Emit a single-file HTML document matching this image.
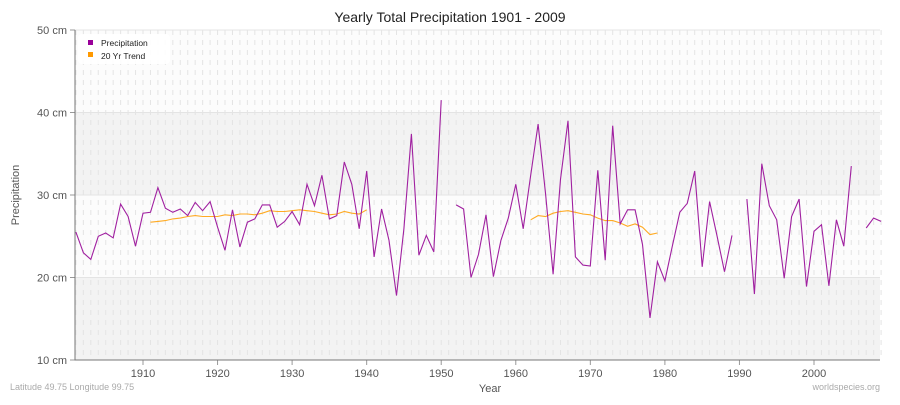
<!DOCTYPE html>
<html><head><meta charset="utf-8"><style>
body{margin:0;background:#fff;font-family:"Liberation Sans",sans-serif;}
svg text{font-family:"Liberation Sans",sans-serif;}
</style></head><body>
<svg id="chart" width="900" height="400" xmlns="http://www.w3.org/2000/svg">
<text x="450" y="22" text-anchor="middle" font-size="14" fill="#222">Yearly Total Precipitation 1901 - 2009</text>
<g id="bg"></g><g id="grid"></g><g id="axes"></g><g id="series"></g>
<text x="10" y="390" font-size="9" fill="#aaa">Latitude 49.75 Longitude 99.75</text>
<text x="880" y="390" font-size="9" fill="#aaa" text-anchor="end">worldspecies.org</text>
<text x="490" y="392" font-size="11" fill="#555" text-anchor="middle">Year</text>
<text x="19" y="195" font-size="11" fill="#555" text-anchor="middle" transform="rotate(-90 19 195)">Precipitation</text>
<g>
<rect x="78" y="34" width="92" height="30" rx="4" fill="#fff" opacity="0.9"/>
<rect x="88" y="40" width="5" height="5" fill="#990099"/>
<text x="101" y="46" font-size="8.5" fill="#222">Precipitation</text>
<rect x="88" y="52" width="5" height="5" fill="#ff9900"/>
<text x="101" y="59" font-size="8.5" fill="#222">20 Yr Trend</text>
</g>
</svg>
<script>
const startYear = 1901;
const precip = [25.5,23,22.2,25,25.4,24.8,28.9,27.4,23.8,27.8,27.9,30.9,28.4,27.9,28.3,27.5,29.1,28.1,29.2,26.1,23.3,28.2,23.7,26.7,27.1,28.8,28.8,26.1,26.8,28.0,26.4,31.3,28.7,32.4,27.1,27.5,34.0,31.3,25.9,32.9,22.5,28.3,24.5,17.8,25.9,37.4,22.7,25.1,23.1,41.5,null,28.8,28.3,20.0,22.8,27.6,20.1,24.5,27.2,31.3,25.9,32.4,38.6,30.1,20.4,31.9,39.0,22.5,21.5,21.4,33.0,22.1,38.4,26.5,28.2,28.2,24.0,15.1,21.9,19.6,23.8,27.9,29.0,32.9,21.3,29.2,25.0,20.7,25.1,null,29.5,18.0,33.8,28.7,27.0,19.9,27.4,29.5,18.9,25.6,26.4,19.0,27.0,23.8,33.5,null,26.0,27.2,26.8];
const trendA_start = 1911;
const trendA = [26.7,26.8,26.9,27.1,27.2,27.4,27.5,27.4,27.4,27.4,27.6,27.5,27.7,27.7,27.6,27.8,28.1,28.0,28.0,28.1,28.2,28.1,28.0,27.8,27.6,27.7,28.0,27.8,27.7,28.2];
const trendB_start = 1962;
const trendB = [27.0,27.5,27.4,27.8,28.0,28.1,27.9,27.7,27.6,27.2,26.9,26.9,26.6,26.2,26.5,26.1,25.2,25.4];
const yTicks = [10,20,30,40,50];
const xTicks = [1910,1920,1930,1940,1950,1960,1970,1980,1990,2000];

const NS="http://www.w3.org/2000/svg";
const X0=75,X1=880,Y0=30,Y1=360;
const xs=y=>143+(y-1910)*(814-143)/90;
const ys=v=>Y1-(v-10)*(Y1-Y0)/40;
function mk(parent,tag,attrs){const e=document.createElementNS(NS,tag);for(const k in attrs)e.setAttribute(k,attrs[k]);document.getElementById(parent).appendChild(e);return e;}
for(let i=0;i<4;i++){const lo=yTicks[i],hi=yTicks[i+1];
 const r=mk('bg','rect',{x:X0,y:ys(hi),width:X1-X0,height:ys(lo)-ys(hi),fill:i%2==0?'#f3f3f3':'#fcfcfc'});
 
 }
for(let y=1901;y<=2009;y++){const l=mk('grid','line',{x1:xs(y),x2:xs(y),y1:Y0,y2:Y1,stroke:'#e4e4e4','stroke-width':1,'stroke-dasharray':'5,5'});
 
 }
yTicks.forEach(v=>{const l=mk('grid','line',{x1:X0,x2:X1,y1:ys(v),y2:ys(v),stroke:'#e4e4e4','stroke-width':1});
 
 
 const t=mk('axes','line',{x1:X0-5,x2:X0,y1:ys(v),y2:ys(v),stroke:'#999'});
 
 
 const tx=mk('axes','text',{x:X0-8,y:ys(v)+4,'text-anchor':'end','font-size':11,fill:'#555'});tx.textContent=v+' cm';
 
 });
xTicks.forEach(y=>{const t=mk('axes','line',{x1:xs(y),x2:xs(y),y1:Y1,y2:Y1+5,stroke:'#999'});
 
 
 const tx=mk('axes','text',{x:xs(y),y:Y1+17,'text-anchor':'middle','font-size':11,fill:'#555'});tx.textContent=y;
 
 });
const ax=mk('axes','path',{d:`M${X0} ${Y0}V${Y1}H${X1}`,fill:'none',stroke:'#777','stroke-width':1});


function segs(arr,start){const out=[];let cur=[];arr.forEach((v,i)=>{if(v==null){if(cur.length)out.push(cur);cur=[];}else cur.push([xs(start+i),ys(v)]);});if(cur.length)out.push(cur);return out;}
function draw(arr,start,color,name){segs(arr,start).forEach(s=>{const p=mk('series','path',{d:'M'+s.map(q=>q[0].toFixed(1)+' '+q[1].toFixed(1)).join('L'),fill:'none',stroke:color,'stroke-width':1.1});
 
 });}
draw(trendA,trendA_start,'#ffaa22','trend-line');
draw(trendB,trendB_start,'#ffaa22','trend-line');
draw(precip,startYear,'#a020a0','precipitation-line');
</script>
</body></html>
